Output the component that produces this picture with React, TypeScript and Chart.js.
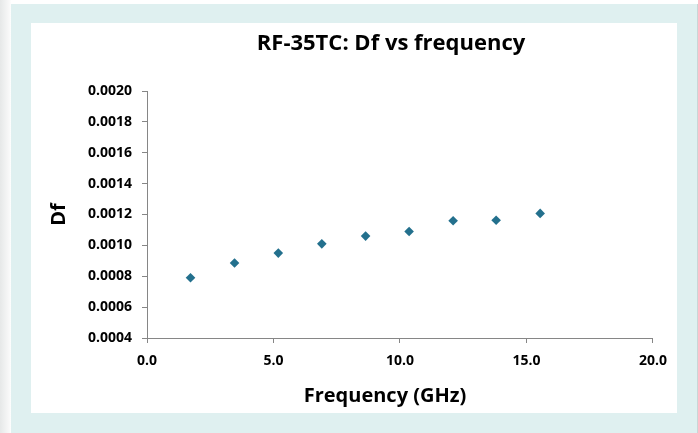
import React, { useEffect, useRef } from "react";
import { Chart, registerables } from "chart.js";

Chart.register(...registerables);

const frequencyGHz = [1.72, 3.46, 5.19, 6.91, 8.64, 10.36, 12.1, 13.8, 15.54];
const dfValues = [0.00079, 0.000886, 0.00095, 0.00101, 0.00106, 0.00109, 0.00116, 0.001163, 0.001207];
const chartTitle = "RF-35TC: Df vs frequency";
const xTitle = "Frequency (GHz)";
const yTitle = "Df";

const FONT = "'Open Sans', 'Liberation Sans', sans-serif";

const titlePlugin = {
  id: "customTitles",
  afterDraw(chart: any) {
    const ctx = chart.ctx;
    ctx.save();
    ctx.fillStyle = "#000";
    ctx.textAlign = "center";
    ctx.textBaseline = "middle";
    ctx.font = `bold 22px ${FONT}`;
    ctx.fillText(chartTitle, 360, 21);
    ctx.font = `bold 20px ${FONT}`;
    ctx.fillText(xTitle, 354, 373);
    ctx.restore();
  },
};

export default function App() {
  const ref = useRef<HTMLCanvasElement | null>(null);
  useEffect(() => {
    document.body.style.margin = "0";
    if (!ref.current) return;
    const chart = new Chart(ref.current, {
      type: "scatter",
      data: {
        datasets: [
          {
            data: frequencyGHz.map((x, i) => ({ x, y: dfValues[i] })),
            pointStyle: "rectRot",
            pointRadius: 4.8,
            backgroundColor: "#23708d",
            borderColor: "#23708d",
            borderWidth: 0,
          },
        ],
      },
      options: {
        animation: false,
        responsive: false,
        maintainAspectRatio: false,
        layout: { padding: { top: 68, right: 23, left: 0, bottom: 0 } },
        plugins: { legend: { display: false }, tooltip: { enabled: false } },
        scales: {
          x: {
            type: "linear",
            min: 0,
            max: 20,
            ticks: {
              stepSize: 5,
              padding: 10,
              color: "#000",
              font: { family: FONT, size: 14, weight: "bold" },
              callback: (v: any) => Number(v).toFixed(1),
            },
            grid: { drawOnChartArea: false, drawTicks: true, tickLength: 5, color: "#868686" },
            border: { color: "#868686", width: 1 },
            title: { display: false, text: xTitle },
            afterFit: (s: any) => {
              s.height = 75;
            },
          },
          y: {
            type: "linear",
            min: 0.0004,
            max: 0.002,
            ticks: {
              stepSize: 0.0002,
              padding: 10,
              color: "#000",
              font: { family: FONT, size: 14, weight: "bold" },
              callback: (v: any) => Number(v).toFixed(4),
            },
            grid: { drawOnChartArea: false, drawTicks: true, tickLength: 5, color: "#868686" },
            border: { color: "#868686", width: 1 },
            title: {
              display: true,
              text: yTitle,
              color: "#000",
              font: { family: FONT, size: 20, weight: "bold" },
              padding: { top: 16, bottom: 0 },
            },
            afterFit: (s: any) => {
              s.width = 116;
            },
          },
        },
      },
      plugins: [titlePlugin],
    });
    return () => chart.destroy();
  }, []);

  return (
    <div
      style={{
        position: "relative",
        width: 698,
        height: 433,
        background: "linear-gradient(to right, #e6e8e8 0px, #fafafa 10px, #ffffff 11px)",
        overflow: "hidden",
      }}
    >
      <div
        style={{
          position: "absolute",
          left: 11,
          top: 4,
          width: 686,
          height: 429,
          background: "#dff0f0",
          borderRight: "1px solid #c9d6d6",
        }}
      />
      <div
        style={{
          position: "absolute",
          left: 31,
          top: 23,
          width: 646,
          height: 390,
          background: "#ffffff",
        }}
      >
        <canvas ref={ref} width={646} height={390} style={{ display: "block" }} />
      </div>
    </div>
  );
}
